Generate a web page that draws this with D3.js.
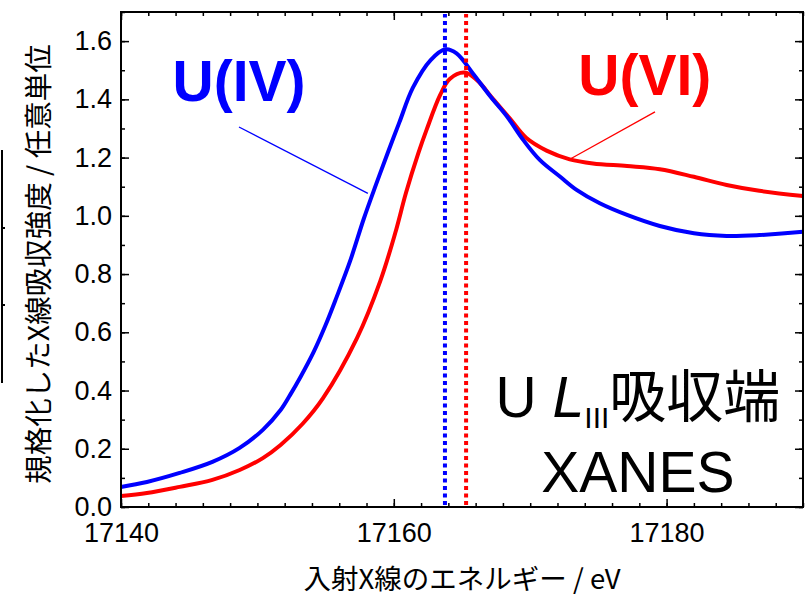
<!DOCTYPE html>
<html>
<head>
<meta charset="utf-8">
<script src="https://cdnjs.cloudflare.com/ajax/libs/d3/7.8.5/d3.min.js"></script>
<style>
  body { margin: 0; background: #fff; }
  text { font-family: "Liberation Sans", Arial, sans-serif; }
  .jp { font-family: "Noto Sans CJK JP", sans-serif; }
</style>
</head>
<body>
<div id="chart"></div>
<script>
// U(IV) spectrum
const energyIV = [17140.0, 17141.9, 17144.3, 17146.7, 17148.7, 17150.4, 17151.7, 17152.4, 17153.2, 17154.1, 17155.0, 17155.8,
  17156.8, 17157.8, 17158.7, 17159.6, 17160.4, 17161.4, 17162.7, 17163.8, 17164.6, 17165.8, 17167.1,
  17168.3, 17169.5, 17170.7, 17172.2, 17173.4, 17175.1, 17177.1, 17179.5, 17182.0, 17184.4, 17186.8, 17190.0];
const valueIV = [0.069, 0.086, 0.117, 0.155, 0.203, 0.265, 0.333, 0.385, 0.450, 0.530, 0.625, 0.720,
  0.845, 0.990, 1.108, 1.222, 1.320, 1.440, 1.535, 1.572, 1.558, 1.489, 1.409,
  1.341, 1.260, 1.192, 1.134, 1.089, 1.043, 1.003, 0.965, 0.940, 0.931, 0.934, 0.945];

// U(VI) spectrum
const energyVI = [17140.0, 17141.9, 17144.3, 17146.7, 17148.7, 17150.4, 17151.7, 17153.3, 17154.8, 17157.3,
  17159.0, 17160.1, 17160.9, 17161.8, 17162.4, 17163.4, 17164.1, 17165.2, 17166.1, 17167.3, 17168.5,
  17169.7, 17171.2, 17172.9, 17174.6, 17177.1, 17179.5, 17182.0, 17184.4, 17186.8, 17190.0];
const valueVI = [0.038, 0.048, 0.069, 0.093, 0.127, 0.168, 0.213, 0.285, 0.373, 0.580,
  0.775, 0.940, 1.080, 1.215, 1.295, 1.415, 1.470, 1.492, 1.466, 1.400, 1.335,
  1.268, 1.224, 1.194, 1.180, 1.171, 1.160, 1.134, 1.106, 1.086, 1.068];

// edge positions (dotted lines)
const edgeIV = 17163.75;
const edgeVI = 17165.3;

const xTicks = [17140, 17160, 17180];
const yTicks = [0.0, 0.2, 0.4, 0.6, 0.8, 1.0, 1.2, 1.4, 1.6];

const W = 809, H = 596;
const margin = {left: 121, right: 6, top: 12, bottom: 89};

const svg = d3.select("#chart").append("svg")
    .attr("width", W)
    .attr("height", H);

const x = d3.scaleLinear().domain([17140, 17190]).range([margin.left, W - margin.right]);
const y = d3.scaleLinear().domain([0, 1.7]).range([H - margin.bottom, margin.top]);

// curves
const line = d3.line()
    .x(d => x(d[0]))
    .y(d => y(d[1]))
    .curve(d3.curveCatmullRom);

const ivData = energyIV.map((e, i) => [e, valueIV[i]]);
const viData = energyVI.map((e, i) => [e, valueVI[i]]);

svg.append("path").datum(viData)
    .attr("d", line)
    .attr("fill", "none")
    .attr("stroke", "#ff0000")
    .attr("stroke-width", 4);

svg.append("path").datum(ivData)
    .attr("d", line)
    .attr("fill", "none")
    .attr("stroke", "#0000ff")
    .attr("stroke-width", 4);

// dotted edge markers
[[edgeIV, "#0000ff"], [edgeVI, "#ff0000"]].forEach(([e, c]) => {
    svg.append("line")
        .attr("x1", x(e)).attr("x2", x(e))
        .attr("y1", y(0) - 2).attr("y2", y(1.7) + 2)
        .attr("stroke", c)
        .attr("stroke-width", 4)
        .attr("stroke-dasharray", "4,3.5");
});

// axes with inward ticks, major and minor
const minorX = d3.range(17140, 17191, 2);
const minorY = d3.range(0, 1.71, 0.1);

function addAxis(axisFn, scale, ticks, size, transform, labels) {
    const ax = axisFn(scale).tickValues(ticks).tickSizeInner(-size).tickSizeOuter(0);
    if (!labels) ax.tickFormat("");
    const g = svg.append("g").attr("transform", transform).call(ax);
    g.select(".domain").remove();
    g.selectAll(".tick line").attr("stroke", "#000").attr("stroke-width", 1.5);
    return g;
}

const bottomY = y(0), topY = y(1.7), leftX = x(17140), rightX = x(17190);

addAxis(d3.axisBottom, x, minorX, 4, `translate(0,${bottomY})`, false);
addAxis(d3.axisTop, x, minorX, 4, `translate(0,${topY})`, false);
addAxis(d3.axisLeft, y, minorY, 4, `translate(${leftX},0)`, false);
addAxis(d3.axisRight, y, minorY, 4, `translate(${rightX},0)`, false);

const gx = addAxis(d3.axisBottom, x, xTicks, 8, `translate(0,${bottomY})`, true);
gx.selectAll("text")
    .attr("y", 16)
    .attr("font-size", 27)
    .attr("font-family", "Liberation Sans, Arial, sans-serif")
    .attr("fill", "#000")
    .text(d3.format("d"));
addAxis(d3.axisTop, x, xTicks, 8, `translate(0,${topY})`, false);

const gy = addAxis(d3.axisLeft, y, yTicks, 8, `translate(${leftX},0)`, true);
gy.selectAll("text")
    .attr("x", -9)
    .attr("font-size", 27)
    .attr("font-family", "Liberation Sans, Arial, sans-serif")
    .attr("fill", "#000")
    .text(d => d.toFixed(1));
addAxis(d3.axisRight, y, yTicks, 8, `translate(${rightX},0)`, false);

// frame
svg.append("rect")
    .attr("x", leftX).attr("y", topY)
    .attr("width", rightX - leftX).attr("height", bottomY - topY)
    .attr("fill", "none")
    .attr("stroke", "#000")
    .attr("stroke-width", 2);

// axis titles
svg.append("text")
    .attr("class", "jp")
    .attr("x", (leftX + rightX) / 2)
    .attr("y", 589)
    .attr("text-anchor", "middle")
    .attr("font-size", 27.5)
    .text("入射X線のエネルギー / eV");

svg.append("text")
    .attr("class", "jp")
    .attr("transform", "translate(36,264) rotate(-90)")
    .attr("text-anchor", "middle")
    .attr("dominant-baseline", "central")
    .attr("font-size", 28.5)
    .text("規格化したX線吸収強度 / 任意単位");

// stray bracket line at the left edge
svg.append("path")
    .attr("d", "M2,150 V383 M2,228 h3 M2,305 h3")
    .attr("stroke", "#000")
    .attr("stroke-width", 2)
    .attr("fill", "none");

// species labels with leader lines
const labels = [
    {text: "U(IV)", color: "#0000ff", e: 17148.65, v: 1.393, from: [17148.65, 1.305], to: [17158.1, 1.077]},
    {text: "U(VI)", color: "#ff0000", e: 17178.4, v: 1.415, from: [17179.15, 1.357], to: [17173.0, 1.197]}
];
labels.forEach(l => {
    svg.append("text")
        .attr("x", x(l.e)).attr("y", y(l.v))
        .attr("text-anchor", "middle")
        .attr("font-size", 57)
        .attr("font-weight", "bold")
        .attr("fill", l.color)
        .text(l.text);
    svg.append("line")
        .attr("x1", x(l.from[0])).attr("y1", y(l.from[1]))
        .attr("x2", x(l.to[0])).attr("y2", y(l.to[1]))
        .attr("stroke", l.color)
        .attr("stroke-width", 1.3);
});

// edge title
const t1 = svg.append("text")
    .attr("x", x(17177.9)).attr("y", y(0.309))
    .attr("text-anchor", "middle")
    .attr("font-size", 57);
t1.append("tspan").text("U ");
t1.append("tspan").attr("font-style", "italic").text("L");
t1.append("tspan").attr("font-size", 30).attr("dy", 11).text("III");
t1.append("tspan").attr("class", "jp").attr("dy", -11).text("吸収端");

svg.append("text")
    .attr("x", x(17177.9)).attr("y", y(0.0515))
    .attr("text-anchor", "middle")
    .attr("font-size", 57)
    .text("XANES");
</script>
</body>
</html>
